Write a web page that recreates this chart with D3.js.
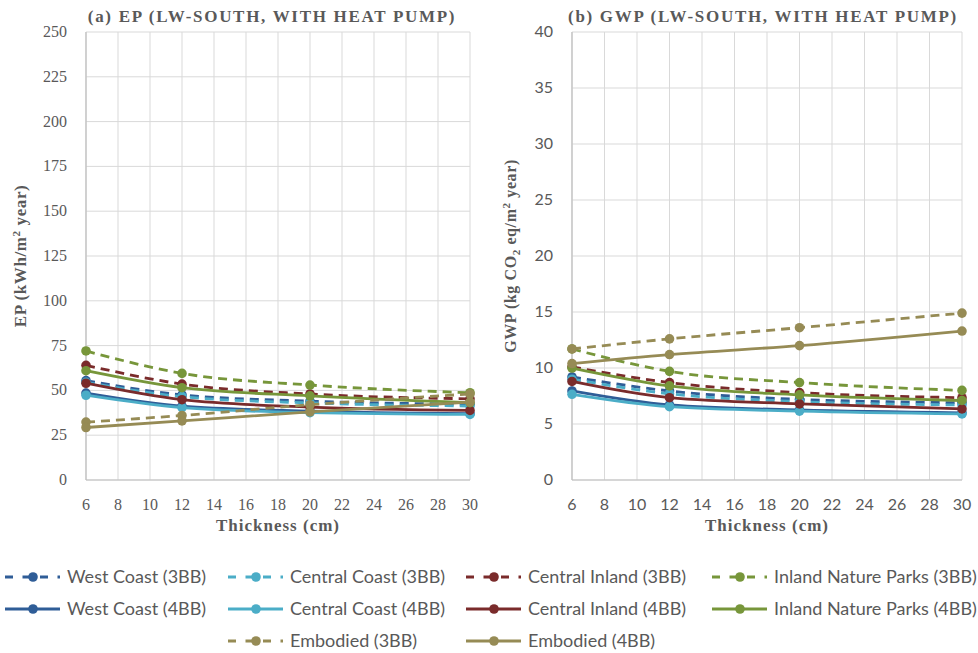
<!DOCTYPE html>
<html>
<head>
<meta charset="utf-8">
<script src="https://cdn.jsdelivr.net/npm/d3@7"></script>
<style>
  body { margin: 0; background: #fff; }
  svg { display: block; }
</style>
</head>
<body>
<svg id="chart"></svg>
<script>
// Thickness values on the x axis (cm)
const thickness = [6, 12, 20, 30];
const xTicks = [6, 8, 10, 12, 14, 16, 18, 20, 22, 24, 26, 28, 30];

// EP values (kWh/m2 year)
const epWestCoast3BB = [55.5, 47.5, 44, 42.3];
const epCentralCoast3BB = [54.5, 46.5, 43, 41.3];
const epCentralInland3BB = [64, 53.5, 48, 45.3];
const epInlandParks3BB = [72, 59.5, 53, 48.7];
const epWestCoast4BB = [48.5, 41.2, 38.4, 37];
const epCentralCoast4BB = [47.3, 40.4, 37.6, 36.6];
const epCentralInland4BB = [54, 44.8, 40.7, 38.8];
const epInlandParks4BB = [61, 51.5, 47, 43.2];
const epEmbodied3BB = [32.3, 36, 42, 48];
const epEmbodied4BB = [29.3, 33, 38, 43.5];

// GWP values (kg CO2 eq/m2 year)
const gwpWestCoast3BB = [9.2, 7.95, 7.2, 6.9];
const gwpCentralCoast3BB = [9.0, 7.7, 7.0, 6.7];
const gwpCentralInland3BB = [10.1, 8.7, 7.8, 7.35];
const gwpInlandParks3BB = [11.7, 9.7, 8.7, 8.0];
const gwpWestCoast4BB = [7.95, 6.7, 6.25, 6.0];
const gwpCentralCoast4BB = [7.65, 6.55, 6.15, 5.9];
const gwpCentralInland4BB = [8.8, 7.35, 6.8, 6.35];
const gwpInlandParks4BB = [10.0, 8.4, 7.6, 7.1];
const gwpEmbodied3BB = [11.7, 12.6, 13.6, 14.9];
const gwpEmbodied4BB = [10.4, 11.2, 12.0, 13.3];

const epTicks = [0, 25, 50, 75, 100, 125, 150, 175, 200, 225, 250];
const gwpTicks = [0, 5, 10, 15, 20, 25, 30, 35, 40];

// Series in legend order
const seriesNames = [
  'West Coast (3BB)', 'Central Coast (3BB)', 'Central Inland (3BB)', 'Inland Nature Parks (3BB)',
  'West Coast (4BB)', 'Central Coast (4BB)', 'Central Inland (4BB)', 'Inland Nature Parks (4BB)',
  'Embodied (3BB)', 'Embodied (4BB)'
];
const epSeries = [epWestCoast3BB, epCentralCoast3BB, epCentralInland3BB, epInlandParks3BB,
  epWestCoast4BB, epCentralCoast4BB, epCentralInland4BB, epInlandParks4BB,
  epEmbodied3BB, epEmbodied4BB];
const gwpSeries = [gwpWestCoast3BB, gwpCentralCoast3BB, gwpCentralInland3BB, gwpInlandParks3BB,
  gwpWestCoast4BB, gwpCentralCoast4BB, gwpCentralInland4BB, gwpInlandParks4BB,
  gwpEmbodied3BB, gwpEmbodied4BB];

const colors = {
  'West Coast': '#2f5d97',
  'Central Coast': '#4badc7',
  'Central Inland': '#7a2b2b',
  'Inland Nature Parks': '#77963a',
  'Embodied': '#968b55'
};
function seriesColor(name) { return colors[name.replace(/ \(\dBB\)/, '')]; }
function isDashed(name) { return name.indexOf('3BB') >= 0; }

const width = 978, height = 653;
const svg = d3.select('#chart').attr('width', width).attr('height', height);

const serif = '"Liberation Serif", "DejaVu Serif", serif';
const sans = 'Lato, "Open Sans", sans-serif';
const dash = '9,6';

function drawPanel(opts) {
  const x = d3.scaleLinear().domain([6, 30]).range([opts.left, opts.right]);
  const y = d3.scaleLinear().domain([0, opts.yMax]).range([480, 32]);
  const g = svg.append('g');

  // gridlines
  g.selectAll('.hgrid').data(opts.yTicks).enter().append('line')
    .attr('x1', opts.left).attr('x2', opts.right)
    .attr('y1', d => y(d)).attr('y2', d => y(d))
    .attr('stroke', '#d9d9d9').attr('stroke-width', 1);
  g.selectAll('.vgrid').data(xTicks).enter().append('line')
    .attr('x1', d => x(d)).attr('x2', d => x(d))
    .attr('y1', y(0)).attr('y2', y(opts.yMax))
    .attr('stroke', '#d9d9d9').attr('stroke-width', 1);
  // axis lines
  g.append('line').attr('x1', opts.left).attr('x2', opts.right)
    .attr('y1', y(0)).attr('y2', y(0)).attr('stroke', '#bfbfbf').attr('stroke-width', 1.2);
  g.append('line').attr('x1', opts.left).attr('x2', opts.left)
    .attr('y1', y(0)).attr('y2', y(opts.yMax)).attr('stroke', '#bfbfbf').attr('stroke-width', 1.2);

  // tick labels
  g.selectAll('.ylab').data(opts.yTicks).enter().append('text')
    .attr('x', opts.left - 19).attr('y', d => y(d) + 5)
    .attr('text-anchor', 'end')
    .style('font-family', opts.tickFont).style('font-size', opts.tickSize)
    .attr('fill', '#595959').text(d => d);
  g.selectAll('.xlab').data(xTicks).enter().append('text')
    .attr('x', d => x(d)).attr('y', 510)
    .attr('text-anchor', 'middle')
    .style('font-family', opts.tickFont).style('font-size', opts.tickSize)
    .attr('fill', '#595959').text(d => d);

  // series
  const line = d3.line().x((d, i) => x(thickness[i])).y(d => y(d)).curve(d3.curveMonotoneX);
  opts.series.forEach((vals, i) => {
    const name = seriesNames[i];
    const col = seriesColor(name);
    g.append('path').datum(vals)
      .attr('d', line).attr('fill', 'none')
      .attr('stroke', col).attr('stroke-width', 2.8)
      .attr('stroke-dasharray', isDashed(name) ? dash : null);
    g.selectAll(null).data(vals).enter().append('circle')
      .attr('cx', (d, k) => x(thickness[k])).attr('cy', d => y(d))
      .attr('r', 4.8).attr('fill', col);
  });

  // title
  g.append('text')
    .attr('x', opts.titleX).attr('y', 22)
    .attr('text-anchor', 'middle')
    .style('font-family', serif).style('font-size', '17px').style('font-weight', 'bold')
    .style('letter-spacing', '1.7px')
    .attr('fill', '#595959').text(opts.title);

  // x axis title
  g.append('text')
    .attr('x', (opts.left + opts.right) / 2).attr('y', 531)
    .attr('text-anchor', 'middle')
    .style('font-family', serif).style('font-size', '17px').style('font-weight', 'bold')
    .style('letter-spacing', '1px')
    .attr('fill', '#595959').text('Thickness (cm)');

  // y axis title
  const yt = g.append('text')
    .attr('transform', `translate(${opts.yTitleX},${(32 + 480) / 2}) rotate(-90)`)
    .attr('text-anchor', 'middle')
    .style('font-family', serif).style('font-size', opts.yTitleSize).style('font-weight', 'bold')
    .style('letter-spacing', '0.6px')
    .attr('fill', '#595959');
  opts.yTitle(yt);
}

drawPanel({
  left: 86, right: 470, yMax: 250, yTicks: epTicks, series: epSeries,
  tickFont: serif, tickSize: '16px', yTitleSize: '17px',
  title: '(a) EP (LW-SOUTH, WITH HEAT PUMP)', titleX: 272, yTitleX: 26,
  yTitle: t => {
    t.append('tspan').text('EP (kWh/m');
    t.append('tspan').attr('dy', -6).style('font-size', '11px').text('2');
    t.append('tspan').attr('dy', 6).text(' year)');
  }
});

drawPanel({
  left: 572, right: 962, yMax: 40, yTicks: gwpTicks, series: gwpSeries,
  tickFont: sans, tickSize: '16px', yTitleSize: '16px',
  title: '(b) GWP (LW-SOUTH, WITH HEAT PUMP)', titleX: 763, yTitleX: 516,
  yTitle: t => {
    t.append('tspan').text('GWP (kg CO');
    t.append('tspan').attr('dy', 4).style('font-size', '11px').text('2');
    t.append('tspan').attr('dy', -4).text(' eq/m');
    t.append('tspan').attr('dy', -6).style('font-size', '11px').text('2');
    t.append('tspan').attr('dy', 6).text(' year)');
  }
});

// legend
const legendCols = [5, 228, 466, 712];
const legendRows = [577, 609, 641];
const legendPos = seriesNames.map((n, i) => {
  if (i < 8) return { x: legendCols[i % 4], y: legendRows[Math.floor(i / 4)] };
  return { x: legendCols[i - 7], y: legendRows[2] };
});
const legend = svg.append('g');
seriesNames.forEach((name, i) => {
  const p = legendPos[i];
  const col = seriesColor(name);
  const item = legend.append('g').attr('transform', `translate(${p.x},${p.y})`);
  item.append('line').attr('x1', 0).attr('x2', 55).attr('y1', 0).attr('y2', 0)
    .attr('stroke', col).attr('stroke-width', 2.8)
    .attr('stroke-dasharray', isDashed(name) ? '8,9.5' : null);
  item.append('circle').attr('cx', 28).attr('cy', 0).attr('r', 4.8).attr('fill', col);
  item.append('text').attr('x', 62).attr('y', 6)
    .style('font-family', sans).style('font-size', '18px')
    .attr('fill', '#595959').text(name);
});
</script>
</body>
</html>
